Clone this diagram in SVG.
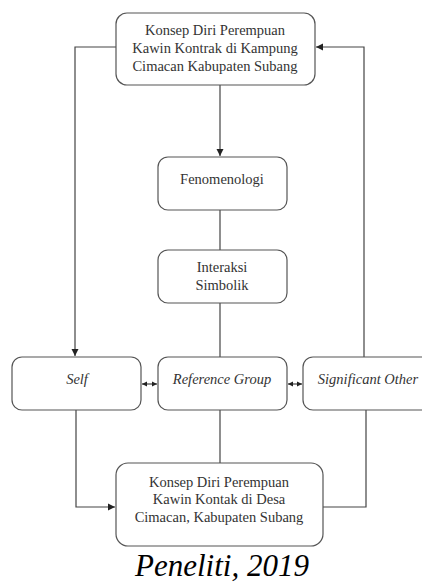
<svg xmlns="http://www.w3.org/2000/svg" width="422" height="582" viewBox="0 0 422 582">
<style>
.box{fill:#fff;stroke:#555;stroke-width:1.2}
.t{font-family:'Liberation Serif','DejaVu Serif',serif;font-size:14.5px;fill:#333;text-anchor:middle}
.i{font-style:italic}
.c{fill:none;stroke:#444;stroke-width:1.2}
.cap{font-family:'Liberation Serif','DejaVu Serif',serif;font-size:31px;font-style:italic;fill:#000;text-anchor:middle}
</style>
<defs>
<marker id="ah" markerWidth="8" markerHeight="8" refX="7" refY="4" orient="auto" markerUnits="userSpaceOnUse">
<path d="M0,0.5 L7,4 L0,7.5 Z" fill="#222"/>
</marker>
<marker id="sh" markerWidth="6" markerHeight="6" refX="5" refY="3" orient="auto-start-reverse" markerUnits="userSpaceOnUse">
<path d="M0,0.5 L5,3 L0,5.5 Z" fill="#222"/>
</marker>
</defs>
<rect width="422" height="582" fill="#fff"/>
<g id="connectors">
<path class="c" d="M116,47 H75 V356" marker-end="url(#ah)"/>
<path class="c" d="M364,357 V47 H316" marker-end="url(#ah)"/>
<path class="c" d="M220,85 V156" marker-end="url(#ah)"/>
<path class="c" d="M220,210 V250"/>
<path class="c" d="M220,303 V357"/>
<path class="c" d="M142,384 H157" marker-start="url(#sh)" marker-end="url(#sh)"/>
<path class="c" d="M288,384 H302" marker-start="url(#sh)" marker-end="url(#sh)"/>
<path class="c" d="M76,410 V507 H115" marker-end="url(#ah)"/>
<path class="c" d="M220,410 V463"/>
<path class="c" d="M366,410 V507 H323"/>
</g>
<g id="top">
<rect class="box" x="116" y="13" width="199" height="72" rx="11"/>
<text class="t" x="215" y="35">Konsep Diri Perempuan</text>
<text class="t" x="215" y="53">Kawin Kontrak di Kampung</text>
<text class="t" x="215" y="71">Cimacan Kabupaten Subang</text>
</g>
<g id="fenomenologi">
<rect class="box" x="158" y="157" width="129" height="53" rx="10"/>
<text class="t" x="222" y="184">Fenomenologi</text>
</g>
<g id="interaksi">
<rect class="box" x="158" y="250" width="129" height="53" rx="10"/>
<text class="t" x="222" y="272">Interaksi</text>
<text class="t" x="222" y="290">Simbolik</text>
</g>
<g id="self">
<rect class="box" x="12" y="357" width="129" height="53" rx="10"/>
<text class="t i" x="77" y="384">Self</text>
</g>
<g id="reference">
<rect class="box" x="158" y="357" width="129" height="53" rx="10"/>
<text class="t i" x="222" y="384">Reference Group</text>
</g>
<g id="significant">
<rect class="box" x="303" y="357" width="132" height="53" rx="10"/>
<text class="t i" x="368" y="384">Significant Other</text>
</g>
<g id="bottom">
<rect class="box" x="116" y="463" width="207" height="83" rx="12"/>
<text class="t" x="219" y="487">Konsep Diri Perempuan</text>
<text class="t" x="219" y="504">Kawin Kontak di Desa</text>
<text class="t" x="219" y="522">Cimacan, Kabupaten Subang</text>
</g>
<text class="cap" x="222" y="576">Peneliti, 2019</text>
</svg>
